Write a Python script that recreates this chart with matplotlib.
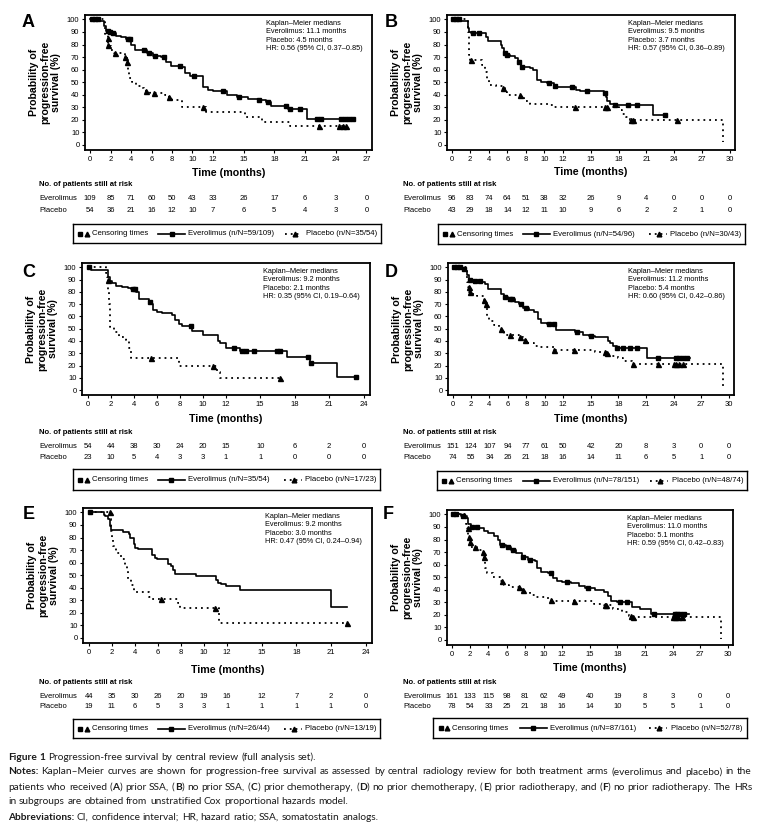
import re
import matplotlib
matplotlib.use("Agg")
import matplotlib.pyplot as plt
import matplotlib.transforms as mtransforms
import numpy as np

plt.rcParams['font.family'] = ['Liberation Sans', 'DejaVu Sans']
CAP_FONT = ['Lato', 'DejaVu Sans']

W, H = 761, 827

#### Panel A: prior SSA
A_ev_t = [0, 1.0, 1.4, 1.6, 1.85, 2.0, 2.5, 3.0, 3.5, 4.0, 4.4, 5.6, 6.1, 6.9, 7.4, 7.9, 8.9, 9.3, 9.8, 11.0, 11.5, 12.0, 13.4, 14.4, 15.4, 16.4, 17.2, 17.7, 19.3, 21.2, 25.8]
A_ev_s = [100, 99, 95, 91, 90, 89, 87, 86, 84, 80, 76, 73, 71, 70, 66, 63, 62, 57, 55, 46, 44, 43, 40, 38, 37, 36, 34, 31, 29, 21, 21]
A_ev_c = [0.2, 0.5, 0.8, 1.7, 1.9, 2.2, 3.7, 3.9, 5.3, 5.8, 6.3, 7.2, 8.8, 10.2, 13.0, 14.6, 16.5, 17.4, 19.1, 19.5, 20.5, 22.2, 22.6, 24.5, 24.9, 25.3, 25.7]
A_pl_t = [0, 1.5, 1.7, 1.75, 1.8, 2.0, 2.3, 3.4, 3.6, 3.7, 3.8, 4.1, 4.5, 5.0, 5.3, 5.9, 7.3, 7.6, 8.0, 9.0, 11.3, 15.1, 16.8, 19.5, 25.0]
A_pl_s = [100, 88, 85, 80, 79, 76, 73, 70, 66, 58, 53, 50, 47, 45, 43, 41, 40, 38, 36, 30, 26, 22, 18, 15, 15]
A_pl_c = [1.72, 1.77, 2.4, 3.45, 3.65, 5.5, 6.2, 7.7, 11.0, 22.4, 24.3, 24.7, 25.0]
A_ticks = [0, 2, 4, 6, 8, 10, 12, 15, 18, 21, 24, 27]
A_risk_ev = [109, 85, 71, 60, 50, 43, 33, 26, 17, 6, 3, 0]
A_risk_pl = [54, 36, 21, 16, 12, 10, 7, 6, 5, 4, 3, 0]
A_med = ["11.1", "4.5", "0.56 (95% CI, 0.37\u20130.85)"]
A_nn = ["59/109", "35/54"]

#### Panel B: no prior SSA
B_ev_t = [0, 1.0, 1.8, 1.9, 2.1, 3.7, 3.9, 5.3, 5.45, 5.6, 5.8, 6.3, 6.8, 7.2, 7.5, 8.4, 8.8, 9.2, 9.6, 10.3, 11.0, 11.2, 13.4, 13.8, 16.4, 16.6, 16.8, 17.1, 17.5, 21.7, 23.2]
B_ev_s = [100, 99, 93, 90, 89, 86, 83, 80, 77, 73, 72, 71, 69, 66, 62, 61, 60, 52, 50, 49, 47, 46, 44, 43, 41, 38, 35, 33, 32, 24, 24]
B_ev_c = [0.2, 0.5, 0.8, 2.3, 3.0, 5.7, 6.0, 7.3, 7.6, 10.5, 11.1, 13.0, 14.6, 16.5, 17.6, 19.0, 20.0, 23.0]
B_pl_t = [0, 1.8, 1.85, 1.9, 2.0, 3.3, 3.6, 3.8, 4.0, 4.8, 5.5, 5.8, 6.0, 7.4, 7.8, 8.5, 10.5, 11.0, 18.0, 18.4, 18.8, 19.2, 29.3]
B_pl_s = [100, 90, 80, 72, 68, 64, 58, 52, 48, 47, 45, 42, 40, 38, 35, 33, 32, 30, 28, 25, 22, 20, 2]
B_pl_c = [2.1, 5.5, 7.35, 13.3, 16.5, 16.7, 19.3, 19.6, 24.3]
B_ticks = [0, 2, 4, 6, 8, 10, 12, 15, 18, 21, 24, 27, 30]
B_risk_ev = [96, 83, 74, 64, 51, 38, 32, 26, 9, 4, 0, 0, 0]
B_risk_pl = [43, 29, 18, 14, 12, 11, 10, 9, 6, 2, 2, 1, 0]
B_med = ["9.5", "3.7", "0.57 (95% CI, 0.36\u20130.89)"]
B_nn = ["54/96", "30/43"]

#### Panel C: prior chemotherapy
C_ev_t = [0, 0.3, 1.8, 1.9, 2.1, 2.5, 3.0, 3.5, 3.8, 4.2, 4.5, 5.3, 5.5, 5.7, 6.0, 6.5, 7.3, 7.6, 7.9, 8.2, 9.1, 10.0, 11.3, 11.5, 12.0, 13.2, 17.3, 19.3, 21.7, 23.3]
C_ev_s = [100, 98, 92, 89, 87, 85, 84, 83, 82, 80, 74, 72, 70, 65, 64, 63, 61, 57, 54, 52, 48, 45, 40, 38, 34, 32, 27, 22, 11, 11]
C_ev_c = [0.1, 3.9, 4.1, 5.45, 9.0, 12.7, 13.4, 13.8, 14.5, 16.5, 16.7, 19.2, 19.4, 23.3]
C_pl_t = [0, 1.6, 1.7, 1.75, 1.8, 1.85, 1.9, 2.3, 2.7, 3.3, 3.6, 3.8, 7.9, 11.2, 11.5, 16.7]
C_pl_s = [100, 95, 92, 90, 80, 70, 51, 47, 43, 41, 34, 26, 20, 15, 10, 10]
C_pl_c = [1.77, 5.5, 10.9, 16.7]
C_ticks = [0, 2, 4, 6, 8, 10, 12, 15, 18, 21, 24]
C_risk_ev = [54, 44, 38, 30, 24, 20, 15, 10, 6, 2, 0]
C_risk_pl = [23, 10, 5, 4, 3, 3, 1, 1, 0, 0, 0]
C_med = ["9.2", "2.1", "0.35 (95% CI, 0.19\u20130.64)"]
C_nn = ["35/54", "17/23"]

#### Panel D: no prior chemotherapy
D_ev_t = [0, 1.0, 1.4, 1.6, 1.8, 2.2, 3.2, 3.5, 3.8, 5.3, 5.6, 6.0, 6.8, 7.2, 7.6, 8.3, 8.8, 9.3, 9.6, 10.3, 11.2, 13.3, 14.2, 14.8, 15.5, 16.9, 17.1, 17.4, 17.8, 21.1, 25.8]
D_ev_s = [100, 99, 97, 94, 90, 89, 88, 86, 82, 78, 76, 74, 72, 70, 67, 65, 64, 58, 55, 54, 49, 47, 45, 44, 43, 40, 38, 36, 34, 26, 26]
D_ev_c = [0.2, 0.5, 0.8, 1.2, 1.9, 2.4, 3.0, 5.7, 6.2, 6.5, 7.4, 8.0, 10.5, 11.0, 13.5, 15.0, 17.9, 18.5, 19.3, 20.0, 22.3, 24.2, 24.6, 25.0, 25.5]
D_pl_t = [0, 1.6, 1.7, 1.8, 2.0, 2.7, 3.4, 3.6, 3.7, 3.9, 4.5, 5.0, 5.3, 5.6, 7.2, 7.6, 8.0, 8.8, 9.5, 11.0, 15.5, 16.6, 17.0, 18.0, 18.5, 19.5, 29.4]
D_pl_s = [100, 88, 84, 80, 78, 77, 73, 70, 60, 56, 53, 50, 47, 45, 43, 41, 38, 36, 35, 33, 31, 30, 28, 26, 24, 21, 1]
D_pl_c = [1.75, 1.85, 3.45, 3.65, 5.2, 6.2, 7.3, 7.9, 11.0, 13.2, 16.5, 16.8, 19.6, 22.3, 24.0, 24.3, 24.6, 25.0]
D_ticks = [0, 2, 4, 6, 8, 10, 12, 15, 18, 21, 24, 27, 30]
D_risk_ev = [151, 124, 107, 94, 77, 61, 50, 42, 20, 8, 3, 0, 0]
D_risk_pl = [74, 55, 34, 26, 21, 18, 16, 14, 11, 6, 5, 1, 0]
D_med = ["11.2", "5.4", "0.60 (95% CI, 0.42\u20130.86)"]
D_nn = ["78/151", "48/74"]

#### Panel E: prior radiotherapy
E_ev_t = [0, 1.3, 1.4, 1.7, 1.8, 1.9, 3.0, 3.5, 3.6, 3.9, 4.0, 4.3, 5.5, 5.7, 5.9, 6.9, 7.1, 7.3, 7.5, 9.3, 11.0, 11.2, 11.5, 11.9, 13.1, 21.0, 22.4]
E_ev_s = [100, 98, 97, 95, 89, 86, 84, 83, 80, 75, 72, 71, 66, 64, 63, 59, 57, 54, 51, 49, 46, 44, 43, 41, 38, 25, 25]
E_ev_c = [0.1]
E_pl_t = [0, 1.85, 1.9, 2.0, 2.1, 2.4, 2.8, 3.1, 3.3, 3.4, 3.7, 3.9, 5.2, 5.4, 7.7, 7.9, 11.3, 22.4]
E_pl_s = [100, 95, 85, 78, 73, 68, 63, 58, 53, 47, 42, 37, 33, 31, 28, 24, 12, 12]
E_pl_c = [1.8, 6.3, 10.9, 22.4]
E_ticks = [0, 2, 4, 6, 8, 10, 12, 15, 18, 21, 24]
E_risk_ev = [44, 35, 30, 26, 20, 19, 16, 12, 7, 2, 0]
E_risk_pl = [19, 11, 6, 5, 3, 3, 1, 1, 1, 1, 0]
E_med = ["9.2", "3.0", "0.47 (95% CI, 0.24\u20130.94)"]
E_nn = ["26/44", "13/19"]

#### Panel F: no prior radiotherapy
F_ev_t = [0, 1.0, 1.7, 1.8, 2.1, 3.0, 3.5, 4.0, 4.6, 5.0, 5.3, 5.9, 6.5, 7.0, 7.6, 8.3, 9.0, 9.3, 9.7, 10.5, 11.0, 11.4, 12.0, 13.0, 13.8, 14.5, 15.6, 16.5, 17.0, 17.3, 18.0, 19.6, 20.5, 21.6, 25.8]
F_ev_s = [100, 99, 97, 92, 90, 89, 87, 85, 83, 80, 76, 74, 72, 69, 66, 64, 63, 57, 54, 53, 49, 47, 46, 45, 43, 41, 40, 38, 35, 31, 30, 26, 25, 21, 21]
F_ev_c = [0.2, 0.5, 1.2, 2.2, 2.8, 5.5, 6.1, 6.7, 7.8, 8.5, 10.8, 12.5, 14.8, 18.3, 19.0, 22.0, 24.2, 24.5, 24.8, 25.2]
F_pl_t = [0, 1.6, 1.7, 1.8, 1.9, 2.0, 2.8, 3.3, 3.5, 3.6, 3.8, 4.5, 5.3, 5.7, 6.2, 7.6, 8.0, 8.5, 9.2, 10.5, 11.0, 15.5, 16.5, 17.5, 18.5, 19.3, 19.6, 29.3]
F_pl_s = [100, 92, 89, 82, 78, 74, 72, 70, 66, 57, 53, 50, 47, 44, 42, 40, 38, 36, 34, 32, 31, 29, 28, 25, 22, 19, 18, 1]
F_pl_c = [1.75, 1.85, 1.95, 2.5, 3.45, 3.55, 5.5, 7.3, 7.8, 10.8, 13.3, 16.6, 16.8, 19.5, 19.7, 24.0, 24.3, 24.6, 25.0]
F_ticks = [0, 2, 4, 6, 8, 10, 12, 15, 18, 21, 24, 27, 30]
F_risk_ev = [161, 133, 115, 98, 81, 62, 49, 40, 19, 8, 3, 0, 0]
F_risk_pl = [78, 54, 33, 25, 21, 18, 16, 14, 10, 5, 5, 1, 0]
F_med = ["11.0", "5.1", "0.59 (95% CI, 0.42\u20130.83)"]
F_nn = ["87/161", "52/78"]

# pixel layout: axes box (l, t, r, b), rows (time label, header, everolimus, placebo),
# x of row labels, legend box, panel letter (x, top)
LAYOUT = {
    'A': dict(ax=(85, 15, 372, 150), rows=(173, 185, 199, 211), labx=39, leg=(73, 224, 381, 243), let=(22, 14)),
    'B': dict(ax=(447, 15, 735, 150), rows=(172, 185, 199, 211), labx=403, leg=(438, 224, 745, 244), let=(385, 14)),
    'C': dict(ax=(82, 263, 370, 395), rows=(419, 433, 446, 458), labx=39, leg=(73, 469, 380, 490), let=(22, 264)),
    'D': dict(ax=(448, 263, 734, 395), rows=(419, 433, 446, 458), labx=403, leg=(437, 471, 747, 490), let=(385, 264)),
    'E': dict(ax=(83, 508, 372, 643), rows=(670, 683, 696, 707), labx=39, leg=(73, 719, 380, 738), let=(23, 506)),
    'F': dict(ax=(447, 510, 733, 645), rows=(668, 683, 696, 707), labx=403, leg=(433, 718, 747, 738), let=(383, 506)),
}

fig = plt.figure(figsize=(W / 100, H / 100), dpi=100)


def fy(py):
    return 1 - py / H


def km_value(t, s, x):
    idx = np.searchsorted(np.array(t), np.array(x), side='right') - 1
    return np.array(s)[idx]


def draw_panel(key, ev_t, ev_s, ev_c, pl_t, pl_s, pl_c, ticks, risk_ev, risk_pl, med, nn):
    lay = LAYOUT[key]
    l, t, r, b = lay['ax']
    ax = fig.add_axes([l / W, fy(b), (r - l) / W, (b - t) / H])
    ax.step(ev_t, ev_s, where='post', color='black', lw=1.2, zorder=3)
    ax.plot(ev_c, km_value(ev_t, ev_s, ev_c), 's', color='black', ms=2.6, zorder=4)
    ax.step(pl_t, pl_s, where='post', color='black', lw=1.3, linestyle=(0, (1, 2.2)), zorder=3)
    ax.plot(pl_c, km_value(pl_t, pl_s, pl_c), '^', color='black', ms=3.6, zorder=4)
    ax.set_xlim(-0.5, ticks[-1] + 0.55)
    ax.set_ylim(-4, 103.5)
    ax.set_xticks(ticks)
    ax.set_yticks(range(0, 101, 10))
    ax.tick_params(labelsize=5.5, length=2.5, width=0.8, direction='out', pad=1.5)
    for sp in ax.spines.values():
        sp.set_linewidth(1.3)

    ax.text(0.63, 0.965,
            "Kaplan\u2013Meier medians\nEverolimus: %s months\nPlacebo: %s months\nHR: %s" % tuple(med),
            transform=ax.transAxes, ha='left', va='top', fontsize=5.3, linespacing=1.3)

    # labels
    fig.text((l - 40) / W, fy((t + b) / 2), "Probability of\nprogression-free\nsurvival (%)",
             rotation=90, ha='center', va='center', fontsize=7.6, fontweight='bold', linespacing=1.15)
    ry = lay['rows']
    fig.text((l + r) / 2 / W, fy(ry[0]), "Time (months)", ha='center', va='center',
             fontsize=7.7, fontweight='bold')
    fig.text(lay['labx'] / W, fy(ry[1]), "No. of patients still at risk", ha='left', va='center',
             fontsize=5.5, fontweight='bold')
    fig.text(lay['labx'] / W, fy(ry[2]), "Everolimus", ha='left', va='center', fontsize=5.5)
    fig.text(lay['labx'] / W, fy(ry[3]), "Placebo", ha='left', va='center', fontsize=5.5)
    trans = mtransforms.blended_transform_factory(ax.transData, fig.transFigure)
    for x, n1, n2 in zip(ticks, risk_ev, risk_pl):
        ax.text(x, fy(ry[2]), str(n1), transform=trans, ha='center', va='center', fontsize=5.5, clip_on=False)
        ax.text(x, fy(ry[3]), str(n2), transform=trans, ha='center', va='center', fontsize=5.5, clip_on=False)

    lx, ly = lay['let']
    fig.text(lx / W, fy(ly), key, ha='left', va='top', fontsize=13, fontweight='bold')

    # legend box
    gl, gt, gr, gb = lay['leg']
    lax = fig.add_axes([gl / W, fy(gb), (gr - gl) / W, (gb - gt) / H])
    lax.set_xlim(0, 1)
    lax.set_ylim(0, 1)
    lax.set_xticks([])
    lax.set_yticks([])
    for sp in lax.spines.values():
        sp.set_linewidth(1.0)
    lax.plot([0.024], [0.5], 's', color='black', ms=2.2)
    lax.plot([0.045], [0.5], '^', color='black', ms=3.4)
    lax.text(0.062, 0.5, "Censoring times", va='center', ha='left', fontsize=5.6)
    lax.plot([0.276, 0.364], [0.5, 0.5], color='black', lw=1.2)
    lax.plot([0.32], [0.5], 's', color='black', ms=2.6)
    lax.text(0.373, 0.5, "Everolimus (n/N=%s)" % nn[0], va='center', ha='left', fontsize=5.6)
    lax.plot([0.688, 0.745], [0.5, 0.5], color='black', lw=1.3, linestyle=(0, (1, 2.2)))
    lax.plot([0.72], [0.5], '^', color='black', ms=3.4)
    lax.text(0.757, 0.5, "Placebo (n/N=%s)" % nn[1], va='center', ha='left', fontsize=5.6)


draw_panel('A', A_ev_t, A_ev_s, A_ev_c, A_pl_t, A_pl_s, A_pl_c, A_ticks, A_risk_ev, A_risk_pl, A_med, A_nn)
draw_panel('B', B_ev_t, B_ev_s, B_ev_c, B_pl_t, B_pl_s, B_pl_c, B_ticks, B_risk_ev, B_risk_pl, B_med, B_nn)
draw_panel('C', C_ev_t, C_ev_s, C_ev_c, C_pl_t, C_pl_s, C_pl_c, C_ticks, C_risk_ev, C_risk_pl, C_med, C_nn)
draw_panel('D', D_ev_t, D_ev_s, D_ev_c, D_pl_t, D_pl_s, D_pl_c, D_ticks, D_risk_ev, D_risk_pl, D_med, D_nn)
draw_panel('E', E_ev_t, E_ev_s, E_ev_c, E_pl_t, E_pl_s, E_pl_c, E_ticks, E_risk_ev, E_risk_pl, E_med, E_nn)
draw_panel('F', F_ev_t, F_ev_s, F_ev_c, F_pl_t, F_pl_s, F_pl_c, F_ticks, F_risk_ev, F_risk_pl, F_med, F_nn)

#### caption (words wrapped in *...* are bold)
CAPTION = [
    (757, "*Figure* *1* Progression-free survival by central review (full analysis set).", False),
    (772, "*Notes:* Kaplan\u2013Meier curves are shown for progression-free survival as assessed by central "
          "radiology review for both treatment arms (everolimus and placebo) in the", True),
    (787, "patients who received (*A*) prior SSA, (*B*) no prior SSA, (*C*) prior chemotherapy, (*D*) no prior "
          "chemotherapy, (*E*) prior radiotherapy, and (*F*) no prior radiotherapy. The HRs", True),
    (801, "in subgroups are obtained from unstratified Cox proportional hazards model.", False),
    (817, "*Abbreviations:* CI, confidence interval; HR, hazard ratio; SSA, somatostatin analogs.", False),
]
CAP_SIZE = 7.3
CAP_X0, CAP_X1 = 8, 752

renderer = fig.canvas.get_renderer()


def text_width(s, bold=False):
    t = fig.text(0, 0, s, fontsize=CAP_SIZE, family=CAP_FONT, fontweight='bold' if bold else 'normal')
    w = t.get_window_extent(renderer).width
    t.remove()
    return w


space_w = text_width("x x") - text_width("xx")

for y, line, justify in CAPTION:
    words = line.split(" ")
    placed = []
    for w in words:
        parts = [p for p in re.split(r'(\*[^*]+\*)', w) if p]
        arts = []
        for p in parts:
            bold = p.startswith('*')
            txt = p.strip('*')
            a = fig.text(0, fy(y), txt, fontsize=CAP_SIZE, family=CAP_FONT, ha='left', va='center',
                         fontweight='bold' if bold else 'normal', color='#1a1a1a')
            arts.append((a, a.get_window_extent(renderer).width))
        placed.append(arts)
    total = sum(wd for arts in placed for _, wd in arts)
    gap = space_w
    if justify and len(placed) > 1:
        gap = max((CAP_X1 - CAP_X0 - total) / (len(placed) - 1), space_w * 0.6)
    x = CAP_X0
    for arts in placed:
        for a, wd in arts:
            a.set_x(x / W)
            x += wd
        x += gap

fig.savefig("out.png", dpi=100)
